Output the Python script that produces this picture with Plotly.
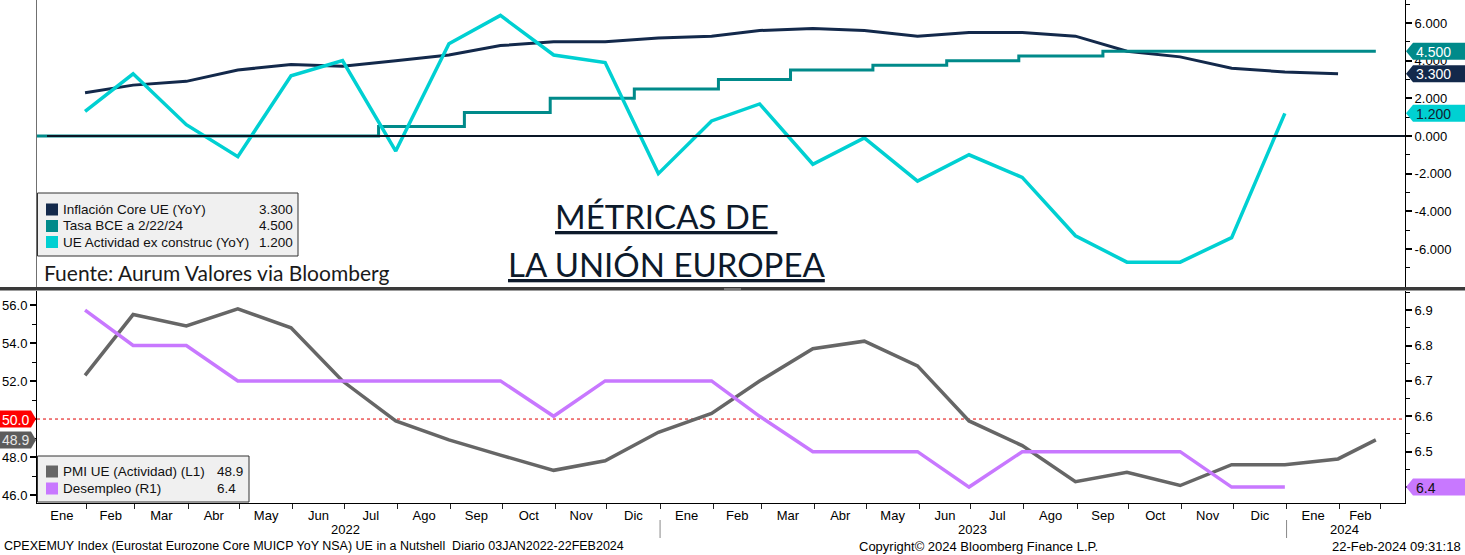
import pandas as pd
import plotly.graph_objects as go

# ---------------- data ----------------
core_dates = pd.date_range("2022-01-01", periods=25, freq="MS") + pd.offsets.MonthEnd(0)
core_values = [2.3, 2.7, 2.9, 3.5, 3.8, 3.7, 4.0, 4.3, 4.8, 5.0, 5.0, 5.2,
               5.3, 5.6, 5.7, 5.6, 5.3, 5.5, 5.5, 5.3, 4.5, 4.2, 3.6, 3.4, 3.3]

act_dates = pd.date_range("2022-01-01", periods=24, freq="MS") + pd.offsets.MonthEnd(0)
act_values = [1.3, 3.3, 0.6, -1.1, 3.2, 4.0, -0.8, 4.9, 6.4, 4.3, 3.9, -2.0,
              0.8, 1.7, -1.5, -0.1, -2.4, -1.0, -2.2, -5.3, -6.7, -6.7, -5.4, 1.2]

bce_dates = ["2022-01-03", "2022-07-21", "2022-09-09", "2022-10-29", "2022-12-17",
             "2023-02-04", "2023-03-18", "2023-05-05", "2023-06-17", "2023-07-29",
             "2023-09-16", "2024-02-22"]
bce_values = [0.0, 0.5, 1.25, 2.0, 2.5, 3.0, 3.5, 3.75, 4.0, 4.25, 4.5, 4.5]

pmi_dates = list(pd.date_range("2022-01-01", periods=25, freq="MS") + pd.offsets.MonthEnd(0)) + [pd.Timestamp("2024-02-22")]
pmi_values = [52.3, 55.5, 54.9, 55.8, 54.8, 52.0, 49.9, 48.9, 48.1, 47.3, 47.8, 49.3,
              50.3, 52.0, 53.7, 54.1, 52.8, 49.9, 48.6, 46.7, 47.2, 46.5, 47.6, 47.6, 47.9,
              48.9]

unemp_dates = pd.date_range("2022-01-01", periods=24, freq="MS") + pd.offsets.MonthEnd(0)
unemp_values = [6.9, 6.8, 6.8, 6.7, 6.7, 6.7, 6.7, 6.7, 6.7, 6.6, 6.7, 6.7,
                6.7, 6.6, 6.5, 6.5, 6.5, 6.4, 6.5, 6.5, 6.5, 6.5, 6.4, 6.4]

month_names = ["Ene", "Feb", "Mar", "Abr", "May", "Jun", "Jul", "Ago", "Sep", "Oct", "Nov", "Dic"]
years = ["2022", "2023", "2024"]
top_ticks = [-6, -4, -2, 0, 2, 4, 6]
left_ticks = [46, 48, 50, 52, 54, 56]
right_ticks = [6.4, 6.5, 6.6, 6.7, 6.8, 6.9]

legend_top = [("Inflación Core UE (YoY)", "3.300"), ("Tasa BCE a 2/22/24", "4.500"),
              ("UE Actividad ex construc (YoY)", "1.200")]
legend_bot = [("PMI UE (Actividad) (L1)", "48.9"), ("Desempleo (R1)", "6.4")]

# ---------------- style ----------------
C_CORE = "#13294b"
C_BCE = "#008a8a"
C_ACT = "#00d0d2"
C_PMI = "#666666"
C_UNEMP = "#c878ff"
FONT = "Liberation Sans, Arial, sans-serif"
TFONT = "Lato, Inter, sans-serif"

W, H = 1465, 555
L, R, T, B = 37, 60, 0, 52
PW, PH = W - L - R, H - T - B


def X(px):
    return (px - L) / PW


def Y(py):
    return (PH - (py - T)) / PH


TOP_PX = (0, 287)
BOT_PX = (291, 503)
top_range = [-8.02, 7.22]
left_range = [45.58, 56.74]
right_range = [6.355, 6.954]
x_range = ["2022-01-03", "2024-03-10"]


def val_to_py(v, rng, dom):
    return dom[0] + (rng[1] - v) / (rng[1] - rng[0]) * (dom[1] - dom[0])


# month boundaries / label positions
start = pd.Timestamp("2022-01-03")
month_starts = list(pd.date_range("2022-02-01", "2024-02-01", freq="MS"))
end_b = pd.Timestamp("2024-02-25")
bounds = [start] + month_starts + [end_b]
mids = [bounds[i] + (bounds[i + 1] - bounds[i]) / 2 for i in range(len(bounds) - 1)]
labels = [month_names[(b.month - 1)] for b in bounds[:-1]]

fig = go.Figure()
fig.add_trace(go.Scatter(x=core_dates, y=core_values, mode="lines", xaxis="x", yaxis="y",
                         line=dict(color=C_CORE, width=3)))
fig.add_trace(go.Scatter(x=bce_dates, y=bce_values, mode="lines", xaxis="x", yaxis="y",
                         line=dict(color=C_BCE, width=3, shape="hv")))
fig.add_trace(go.Scatter(x=act_dates, y=act_values, mode="lines", xaxis="x", yaxis="y",
                         line=dict(color=C_ACT, width=3.5)))
fig.add_trace(go.Scatter(x=pmi_dates, y=pmi_values, mode="lines", xaxis="x", yaxis="y2",
                         line=dict(color=C_PMI, width=3.5)))
fig.add_trace(go.Scatter(x=unemp_dates, y=unemp_values, mode="lines", xaxis="x", yaxis="y3",
                         line=dict(color=C_UNEMP, width=3.5)))

shapes = []
annotations = []

# zero line top, dotted 50 line bottom
shapes.append(dict(type="line", xref="paper", yref="y", x0=X(47), x1=1, y0=0, y1=0,
                   line=dict(color="#0a1626", width=2), layer="above"))
shapes.append(dict(type="line", xref="paper", yref="y2", x0=0, x1=1, y0=50, y1=50,
                   line=dict(color="#e00000", width=1, dash="dot"), layer="below"))
# top-left border
shapes.append(dict(type="line", xref="paper", yref="paper", x0=X(36.5), x1=X(36.5), y0=Y(287), y1=1,
                   line=dict(color="#707070", width=1)))
# panel separator
shapes.append(dict(type="rect", xref="paper", yref="paper", x0=X(0), x1=X(W), y0=Y(290.5), y1=Y(287),
                   fillcolor="#3a3a3a", line=dict(width=0)))
shapes.append(dict(type="rect", xref="paper", yref="paper", x0=X(724), x1=X(741), y0=Y(289.5), y1=Y(288.5),
                   fillcolor="#b0b0b0", line=dict(width=0)))
# year separators
for d in ["2023-01-01", "2024-01-01"]:
    shapes.append(dict(type="line", xref="x", yref="paper", x0=d, x1=d, y0=Y(520), y1=Y(538),
                       line=dict(color="#888888", width=1)))
# year labels
for ytxt, d in zip(years, ["2022-07-02", "2023-07-02", "2024-02-04"]):
    annotations.append(dict(x=d, y=Y(529), xref="x", yref="paper", text=ytxt, showarrow=False,
                            xanchor="center", yanchor="middle", font=dict(size=13, family=FONT)))


def tag(value, rng, dom, side, fill, txtcolor, text):
    py = val_to_py(value, rng, dom)
    hh = 8.5
    if side == "right":
        tip, body, end = 1406, 1413, 1466
        path = (f"M {X(tip)},{Y(py)} L {X(body)},{Y(py - hh)} L {X(end)},{Y(py - hh)} "
                f"L {X(end)},{Y(py + hh)} L {X(body)},{Y(py + hh)} Z")
        tx, anchor = X(1414), "left"
    else:
        tip, body, end = 36, 31, -1
        path = (f"M {X(tip)},{Y(py)} L {X(body)},{Y(py - hh)} L {X(end)},{Y(py - hh)} "
                f"L {X(end)},{Y(py + hh)} L {X(body)},{Y(py + hh)} Z")
        tx, anchor = X(15.5), "center"
    shapes.append(dict(type="path", xref="paper", yref="paper", path=path, fillcolor=fill,
                       line=dict(width=0), layer="above"))
    annotations.append(dict(x=tx, y=Y(py + 0.5), xref="paper", yref="paper", text=text, showarrow=False,
                            xanchor=anchor, yanchor="middle", font=dict(size=14, color=txtcolor, family=FONT)))


tag(4.5, top_range, TOP_PX, "right", C_BCE, "white", "4.500")
tag(3.3, top_range, TOP_PX, "right", C_CORE, "white", "3.300")
tag(1.2, top_range, TOP_PX, "right", C_ACT, "#102030", "1.200")
tag(6.4, right_range, BOT_PX, "right", C_UNEMP, "#111111", "6.4")
tag(50.0, left_range, BOT_PX, "left", "#ff0000", "white", "50.0")
tag(48.9, left_range, BOT_PX, "left", "#5c5c5c", "#e8e8e8", "48.9")


def legend_box(x0, x1, y0, y1, rows, row_y, val_x, colors):
    shapes.append(dict(type="rect", xref="paper", yref="paper", x0=X(x0), x1=X(x1), y0=Y(y1), y1=Y(y0),
                       fillcolor="#f0f0f0", line=dict(color="#333333", width=1), layer="above"))
    for (name, val), ry, col in zip(rows, row_y, colors):
        shapes.append(dict(type="rect", xref="paper", yref="paper", x0=X(46), x1=X(58), y0=Y(ry + 6), y1=Y(ry - 6),
                           fillcolor=col, line=dict(width=0), layer="above"))
        annotations.append(dict(x=X(61), y=Y(ry), xref="paper", yref="paper", text=name, showarrow=False,
                                xanchor="left", yanchor="middle", font=dict(size=13.5, family=FONT, color="#111")))
        annotations.append(dict(x=X(val_x), y=Y(ry), xref="paper", yref="paper", text=val, showarrow=False,
                                xanchor="left", yanchor="middle", font=dict(size=13.5, family=FONT, color="#111")))


legend_box(37.5, 298, 193, 256, legend_top, [209.5, 226, 242], 257, [C_CORE, C_BCE, C_ACT])
legend_box(37.5, 249, 456, 502, legend_bot, [471.5, 488.5], 215, [C_PMI, C_UNEMP])

# source & title
annotations.append(dict(x=X(42), y=Y(272), xref="paper", yref="paper", text="Fuente: Aurum Valores via Bloomberg",
                        showarrow=False, xanchor="left", yanchor="middle",
                        font=dict(size=21, family=TFONT, color="#1a1a1a")))
annotations.append(dict(x=X(666), y=Y(216), xref="paper", yref="paper", text="<u>MÉTRICAS DE\u00a0</u>",
                        showarrow=False, xanchor="center", yanchor="middle",
                        font=dict(size=33, family=TFONT, color="#0d1a2b")))
annotations.append(dict(x=X(666), y=Y(264), xref="paper", yref="paper", text="<u>LA UNIÓN EUROPEA</u>",
                        showarrow=False, xanchor="center", yanchor="middle",
                        font=dict(size=33, family=TFONT, color="#0d1a2b")))

# footer
annotations.append(dict(x=X(2), y=Y(546), xref="paper", yref="paper",
                        text="CPEXEMUY Index (Eurostat Eurozone Core MUICP YoY NSA) UE in a Nutshell\u00a0\u00a0Diario 03JAN2022-22FEB2024",
                        showarrow=False, xanchor="left", yanchor="middle", font=dict(size=12.5, family=FONT)))
annotations.append(dict(x=X(978), y=Y(546), xref="paper", yref="paper", text="Copyright© 2024 Bloomberg Finance L.P.",
                        showarrow=False, xanchor="center", yanchor="middle", font=dict(size=13, family=FONT)))
annotations.append(dict(x=X(1463), y=Y(546), xref="paper", yref="paper", text="22-Feb-2024 09:31:18",
                        showarrow=False, xanchor="right", yanchor="middle", font=dict(size=13, family=FONT)))

fig.update_layout(
    width=W, height=H,
    margin=dict(l=L, r=R, t=T, b=B, autoexpand=False),
    paper_bgcolor="white", plot_bgcolor="white", showlegend=False,
    font=dict(family=FONT, size=13, color="black"),
    xaxis=dict(type="date", range=x_range, anchor="y2", tickmode="array", tickvals=mids, ticktext=labels,
               ticks="", showline=True, linecolor="black", linewidth=1, showgrid=False, zeroline=False,
               tickfont=dict(size=13, family=FONT),
               minor=dict(tickmode="array", tickvals=month_starts + [end_b], ticks="outside", ticklen=5,
                          tickcolor="#222", tickwidth=1, showgrid=False)),
    yaxis=dict(domain=[Y(TOP_PX[1]), Y(TOP_PX[0])], range=top_range, side="right", anchor="x",
               tickmode="array", tickvals=top_ticks, ticktext=[f"{v:.3f}" for v in top_ticks],
               ticks="outside", ticklen=6, tickwidth=2, tickcolor="black",
               showline=True, linecolor="black", linewidth=1, showgrid=False, zeroline=False,
               minor=dict(tickmode="array", tickvals=[-7, -5, -3, -1, 1, 3, 5, 7], ticks="outside",
                          ticklen=4, tickwidth=1, tickcolor="black")),
    yaxis2=dict(domain=[Y(BOT_PX[1]), Y(BOT_PX[0])], range=left_range, side="left", anchor="x",
                tickmode="array", tickvals=left_ticks, ticktext=[f"{v:.1f}" for v in left_ticks],
                ticks="outside", ticklen=6, tickwidth=2, tickcolor="black",
                showline=True, linecolor="black", linewidth=1, showgrid=False, zeroline=False,
                minor=dict(tickmode="array", tickvals=[47, 49, 51, 53, 55], ticks="outside",
                           ticklen=4, tickwidth=1, tickcolor="black")),
    yaxis3=dict(overlaying="y2", range=right_range, side="right", anchor="x",
                tickmode="array", tickvals=right_ticks, ticktext=[f"{v:.1f}" for v in right_ticks],
                ticks="outside", ticklen=6, tickwidth=2, tickcolor="black",
                showline=True, linecolor="black", linewidth=1, showgrid=False, zeroline=False,
                minor=dict(tickmode="array", tickvals=[6.45, 6.55, 6.65, 6.75, 6.85, 6.95], ticks="outside",
                           ticklen=4, tickwidth=1, tickcolor="black")),
    shapes=shapes,
    annotations=annotations,
)

fig.write_html("out.html")
